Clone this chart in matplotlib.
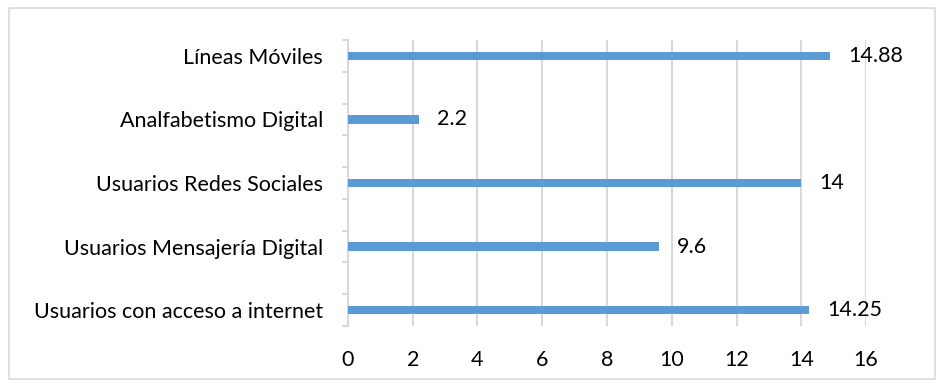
import numpy as np
import matplotlib.pyplot as plt
from matplotlib.patches import Rectangle

# Indicadores digitales (millones)
categorias = ['Líneas Móviles', 'Analfabetismo Digital', 'Usuarios Redes Sociales',
              'Usuarios Mensajería Digital', 'Usuarios con acceso a internet']
valores = [14.88, 2.2, 14, 9.6, 14.25]
etiquetas = ['14.88', '2.2', '14', '9.6', '14.25']

plt.rcParams['font.family'] = ['Lato', 'DejaVu Sans']

azul = '#5B9BD5'
gris = '#D9D9D9'
fs = 15.5

fig = plt.figure(figsize=(9.44, 3.88), dpi=100)
ax = fig.add_axes([0.3686, 0.1598, 0.5488, 0.7371])

# barras en posiciones pares, con un hueco entre cada una
pos = np.arange(len(categorias)) * 2
ax.barh(pos, valores, height=0.27, color=azul, zorder=3)

for y, v, t in zip(pos, valores, etiquetas):
    ax.annotate(t, (v, y), xytext=(13, 0), textcoords='offset points',
                ha='left', va='center', fontsize=fs, color='black')

ax.set_xlim(0, 16)
ax.set_ylim(pos[-1] + 0.5, pos[0] - 0.5)
ax.set_xticks(np.arange(0, 17, 2))
ax.set_yticks(pos)
ax.set_yticklabels(categorias)
ax.set_yticks(np.arange(-0.5, pos[-1] + 1, 1), minor=True)

ax.grid(axis='x', color=gris, linewidth=1.5, zorder=0)
ax.tick_params(axis='x', length=0, labelsize=fs, pad=17)
ax.tick_params(axis='y', which='major', length=0, labelsize=fs, pad=18)
ax.tick_params(axis='y', which='minor', length=4, width=1.5, color=gris)

for s in ['top', 'right', 'bottom']:
    ax.spines[s].set_visible(False)
ax.spines['left'].set_color(gris)
ax.spines['left'].set_linewidth(1.5)

# marco exterior del gráfico
fig.patches.append(Rectangle((9 / 944, 9 / 388), 926 / 944, 371 / 388,
                             transform=fig.transFigure, fill=False,
                             edgecolor=gris, linewidth=1.2))

fig.savefig('out.png', dpi=100)
